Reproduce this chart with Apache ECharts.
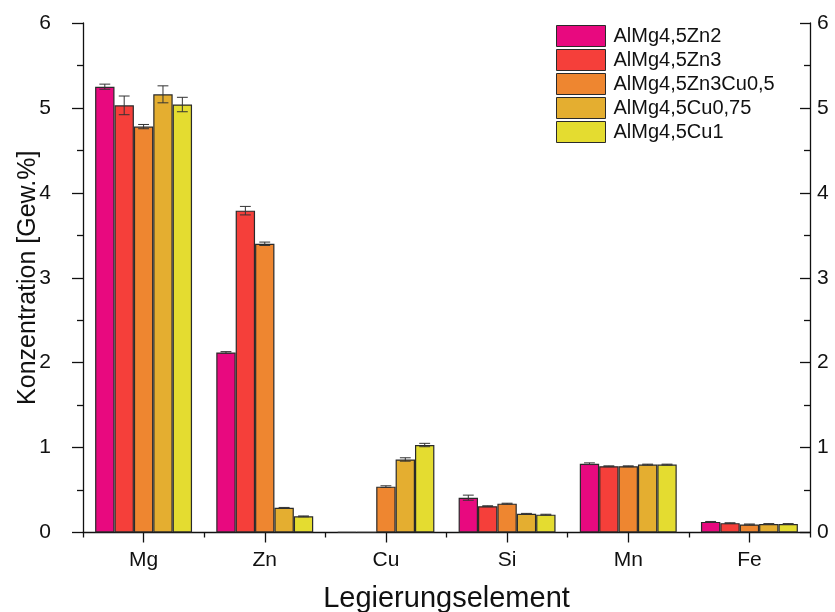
<!DOCTYPE html>
<html>
<head>
<meta charset="utf-8">
<script src="https://cdn.jsdelivr.net/npm/echarts@6/dist/echarts.min.js"></script>
<style>
  html, body { margin: 0; padding: 0; background: #fff; }
  #chart { width: 835px; height: 612px; }
</style>
</head>
<body>
<div id="chart"></div>
<script>
// Element concentrations (wt.%) for five aluminium alloys
const elements = ['Mg', 'Zn', 'Cu', 'Si', 'Mn', 'Fe'];
const alloyNames = ['AlMg4,5Zn2', 'AlMg4,5Zn3', 'AlMg4,5Zn3Cu0,5', 'AlMg4,5Cu0,75', 'AlMg4,5Cu1'];
const alloyColors = ['#E8097F', '#F53F3A', '#EE8630', '#E4AE30', '#E4DC30'];

const znMg2     = [5.25, 2.12, 0.005, 0.41, 0.81, 0.125];
const znMg3     = [5.03, 3.79, 0.005, 0.31, 0.78, 0.11];
const znCu05    = [4.78, 3.40, 0.54, 0.34, 0.78, 0.095];
const cu075     = [5.16, 0.29, 0.86, 0.22, 0.80, 0.10];
const cu1       = [5.04, 0.19, 1.03, 0.21, 0.80, 0.10];

const errZnMg2  = [0.03, 0.01, 0.0, 0.03, 0.01, 0.005];
const errZnMg3  = [0.11, 0.05, 0.0, 0.005, 0.005, 0.005];
const errZnCu05 = [0.025, 0.02, 0.01, 0.005, 0.005, 0.005];
const errCu075  = [0.10, 0.005, 0.02, 0.005, 0.005, 0.005];
const errCu1    = [0.085, 0.005, 0.02, 0.005, 0.005, 0.005];

const yTicks = [0, 1, 2, 3, 4, 5, 6];

const values = [znMg2, znMg3, znCu05, cu075, cu1];
const errors = [errZnMg2, errZnMg3, errZnCu05, errCu075, errCu1];

const FONT = 'Liberation Sans, Arial, sans-serif';
const N = alloyNames.length;
const CAT_GAP = 0.2;

const chart = echarts.init(document.getElementById('chart'), null, { renderer: 'canvas' });

const series = [];
values.forEach((vals, s) => {
  series.push({
    name: alloyNames[s],
    type: 'bar',
    xAxisIndex: 0,
    yAxisIndex: 0,
    data: vals,
    barGap: '0%',
    barCategoryGap: (CAT_GAP * 100) + '%',
    itemStyle: { color: alloyColors[s], borderColor: '#2a2a2a', borderWidth: 1.2 },
    emphasis: { disabled: true }
  });
});
values.forEach((vals, s) => {
  series.push({
    type: 'custom',
    xAxisIndex: 0,
    yAxisIndex: 0,
    z: 5,
    silent: true,
    data: vals.map((v, i) => [i, v, errors[s][i]]),
    renderItem: function (params, api) {
      const err = api.value(2);
      if (!(err > 0)) return null;
      const center = api.coord([api.value(0), api.value(1)]);
      const band = api.size([1, 0])[0];
      const barW = band * (1 - CAT_GAP) / N;
      const x = center[0] + (s - (N - 1) / 2) * barW;
      const hi = api.coord([api.value(0), api.value(1) + err])[1];
      const lo = api.coord([api.value(0), api.value(1) - err])[1];
      const cap = barW * 0.28;
      const style = { stroke: '#333', lineWidth: 1 };
      return {
        type: 'group',
        children: [
          { type: 'line', shape: { x1: x, y1: hi, x2: x, y2: lo }, style },
          { type: 'line', shape: { x1: x - cap, y1: hi, x2: x + cap, y2: hi }, style },
          { type: 'line', shape: { x1: x - cap, y1: lo, x2: x + cap, y2: lo }, style }
        ]
      };
    }
  });
});

const yLabel = { fontFamily: FONT, fontSize: 21, color: '#111' };

chart.setOption({
  animation: false,
  backgroundColor: '#fff',
  grid: { left: 83, right: 25, top: 23, bottom: 79.5, containLabel: false, outerBoundsMode: 'none' },
  legend: {
    data: alloyNames,
    orient: 'vertical',
    left: 556,
    top: 25,
    icon: 'rect',
    itemWidth: 49,
    itemHeight: 21,
    itemGap: 2,
    textStyle: { fontFamily: FONT, fontSize: 20, lineHeight: 21, color: '#111', padding: [0, 0, 0, 3] },
    itemStyle: { borderColor: '#2a2a2a', borderWidth: 1 },
    selectedMode: false,
    padding: 0
  },
  xAxis: [
    {
      type: 'category',
      data: elements,
      position: 'bottom',
      axisLine: { lineStyle: { color: '#111', width: 1.3 } },
      axisTick: { show: true, alignWithLabel: true, length: 10, lineStyle: { color: '#111', width: 1.3 } },
      axisLabel: { fontFamily: FONT, fontSize: 21, color: '#111', margin: 17 },
      name: 'Legierungselement',
      nameLocation: 'middle',
      nameGap: 52,
      nameMoveOverlap: false,
      nameTextStyle: { fontFamily: FONT, fontSize: 29, color: '#111' }
    },
    {
      type: 'category',
      data: elements,
      position: 'bottom',
      axisLine: { show: false },
      axisTick: { show: true, length: 5, lineStyle: { color: '#111', width: 1.3 } },
      axisLabel: { show: false }
    }
  ],
  yAxis: [
    {
      type: 'value',
      min: yTicks[0],
      max: yTicks[yTicks.length - 1],
      interval: 1,
      position: 'left',
      splitLine: { show: false },
      axisLine: { show: true, lineStyle: { color: '#111', width: 1.3 } },
      axisTick: { show: true, length: 11, lineStyle: { color: '#111', width: 1.3 } },
      minorTick: { show: true, splitNumber: 2, length: 6, lineStyle: { color: '#111', width: 1.3 } },
      axisLabel: Object.assign({ margin: 32 }, yLabel),
      name: 'Konzentration [Gew.%]',
      nameLocation: 'middle',
      nameGap: 42,
      nameMoveOverlap: false,
      nameTextStyle: { fontFamily: FONT, fontSize: 25, color: '#111' }
    },
    {
      type: 'value',
      min: yTicks[0],
      max: yTicks[yTicks.length - 1],
      interval: 1,
      position: 'right',
      splitLine: { show: false },
      axisLine: { show: true, lineStyle: { color: '#111', width: 1.3 } },
      axisTick: { show: true, inside: true, length: 10, lineStyle: { color: '#111', width: 1.3 } },
      minorTick: { show: true, splitNumber: 2, length: 6, lineStyle: { color: '#111', width: 1.3 } },
      axisLabel: Object.assign({ margin: 7 }, yLabel)
    }
  ],
  series: series
});
</script>
</body>
</html>
